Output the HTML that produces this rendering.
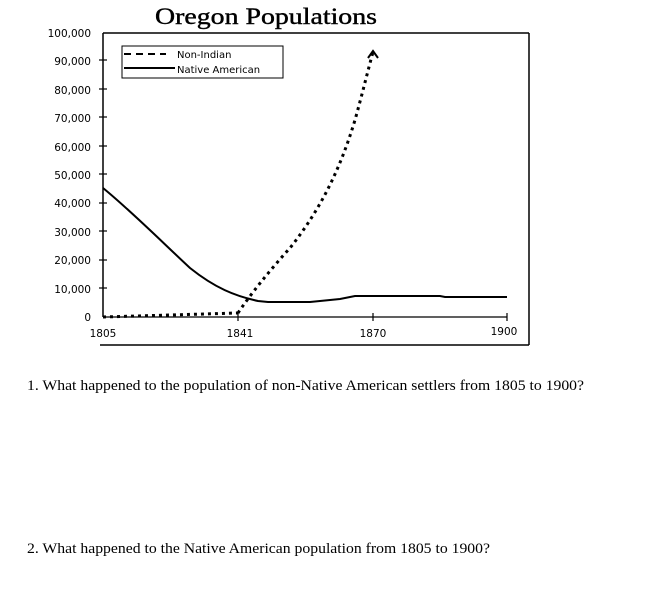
<!DOCTYPE html>
<html><head><style>
body{margin:0;background:#fff;width:666px;height:615px;overflow:hidden}
</style></head><body>
<svg width="666" height="615" xmlns="http://www.w3.org/2000/svg" style="position:absolute;left:0;top:0">
<text x="266" y="24" font-family="Liberation Serif, serif" font-size="23" text-anchor="middle" fill="#000" stroke="#000" stroke-width="0.4" textLength="222" lengthAdjust="spacingAndGlyphs">Oregon Populations</text>
<g stroke="#000" fill="none">
<line x1="103" y1="33" x2="529" y2="33" stroke-width="1.5"/>
<line x1="529" y1="33" x2="529" y2="345" stroke-width="1.5"/>
<line x1="100" y1="345" x2="529" y2="345" stroke-width="1.5"/>
<line x1="103" y1="33" x2="103" y2="317" stroke-width="1.5"/>
<line x1="103" y1="317" x2="507" y2="317" stroke-width="1.2"/>
<g stroke-width="1.2">
<line x1="99" y1="60" x2="107" y2="60"/><line x1="99" y1="89" x2="107" y2="89"/><line x1="99" y1="117" x2="107" y2="117"/>
<line x1="99" y1="146" x2="107" y2="146"/><line x1="99" y1="174" x2="107" y2="174"/><line x1="99" y1="203" x2="107" y2="203"/>
<line x1="99" y1="231" x2="107" y2="231"/><line x1="99" y1="260" x2="107" y2="260"/><line x1="99" y1="288" x2="107" y2="288"/>
<line x1="238" y1="313" x2="238" y2="321"/><line x1="373" y1="313" x2="373" y2="321"/><line x1="507" y1="313" x2="507" y2="321"/>
</g>
<rect x="122" y="46" width="161" height="32" stroke-width="1"/>
<line x1="124" y1="54" x2="166" y2="54" stroke-width="2" stroke-dasharray="7,5"/>
<line x1="124" y1="68" x2="175" y2="68" stroke-width="2"/>
<path d="M103,188 C130,210 160,240 190,268 C215,288 235,296 258,301 L268,302 L310,302 L340,299 L355,296 L440,296 L445,297 L507,297" stroke-width="2"/>
<path d="M103,317 L238,313 M238,313 C250,295 270,270 290,248 C320,210 340,170 355,120 C362,95 368,70 373,52" stroke-width="3" stroke-dasharray="3,4"/>
<path d="M368,58 L373,51 L378,58" stroke-width="2"/>
</g>
<g font-family="DejaVu Sans, sans-serif" font-size="10.5" fill="#000" text-anchor="end">
<text x="91" y="37">100,000</text><text x="91" y="65">90,000</text><text x="91" y="94">80,000</text>
<text x="91" y="122">70,000</text><text x="91" y="151">60,000</text><text x="91" y="179">50,000</text>
<text x="91" y="207">40,000</text><text x="91" y="236">30,000</text><text x="91" y="264">20,000</text>
<text x="91" y="293">10,000</text><text x="91" y="321">0</text>
</g>
<g font-family="DejaVu Sans, sans-serif" font-size="10.5" fill="#000" text-anchor="middle">
<text x="103" y="337">1805</text><text x="240" y="337">1841</text><text x="373" y="337">1870</text><text x="504" y="335">1900</text>
</g>
<g font-family="DejaVu Sans, sans-serif" font-size="10" fill="#000">
<text x="177" y="58">Non-Indian</text><text x="177" y="73">Native American</text>
</g>
<g font-family="Liberation Serif, serif" font-size="15" fill="#000">
<text x="27" y="390" textLength="557" lengthAdjust="spacingAndGlyphs">1.  What happened to the population of non-Native American settlers from 1805 to 1900?</text>
<text x="27" y="553" textLength="463" lengthAdjust="spacingAndGlyphs">2.  What happened to the Native American population from 1805 to 1900?</text>
</g>
</svg>
</body></html>
